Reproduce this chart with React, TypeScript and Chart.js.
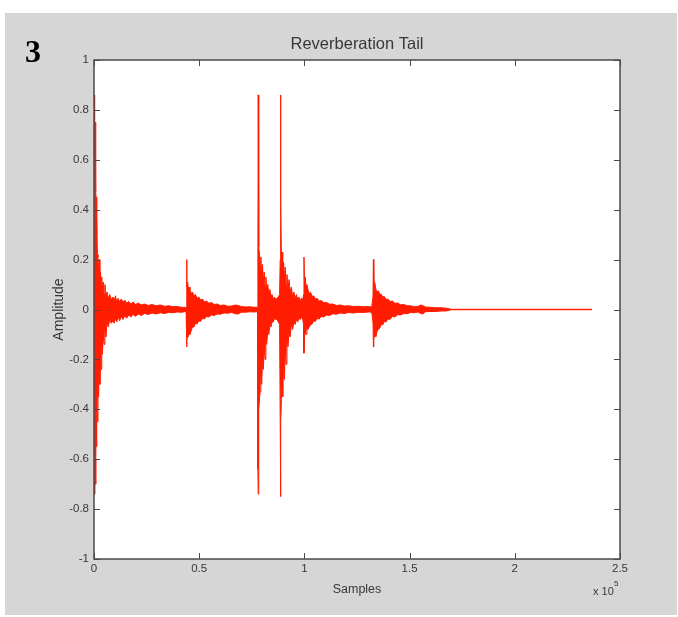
import React, { useEffect, useRef } from 'react';
import { Chart, registerables } from 'chart.js';

Chart.register(...registerables);

// Sample position (x 10^5 samples) with upper / lower amplitude envelope
const samplePos = [
  // first burst
  0.000, 0.002, 0.004, 0.006, 0.008, 0.010, 0.012, 0.014, 0.016, 0.019,
  0.022, 0.025, 0.028, 0.031, 0.034, 0.037, 0.040, 0.044, 0.048, 0.052,
  0.057, 0.062, 0.068, 0.075, 0.082,
  // first tail
  0.090, 0.096, 0.102, 0.108, 0.115, 0.122, 0.130, 0.138, 0.146, 0.155,
  0.165, 0.175, 0.186, 0.198, 0.210, 0.225, 0.240, 0.258, 0.276, 0.295,
  0.315, 0.335, 0.355, 0.375, 0.395, 0.415, 0.438,
  // second burst
  0.440, 0.441, 0.442, 0.445, 0.448, 0.452,
  // second tail
  0.456, 0.462, 0.468, 0.475, 0.482, 0.490, 0.498, 0.506, 0.515, 0.525,
  0.535, 0.546, 0.558, 0.572, 0.586, 0.600, 0.618, 0.636, 0.655, 0.672,
  0.685, 0.700, 0.720, 0.741, 0.760, 0.778,
  // big spike 1
  0.779, 0.7805, 0.782, 0.784, 0.787, 0.790, 0.793, 0.797, 0.801, 0.805,
  0.809, 0.813, 0.817, 0.821, 0.826, 0.831, 0.836, 0.841, 0.846, 0.852,
  0.858, 0.864, 0.870, 0.876, 0.882,
  // big spike 2
  0.885, 0.8865, 0.888, 0.891, 0.894, 0.897, 0.901, 0.905, 0.909, 0.913,
  0.917, 0.922, 0.927, 0.932, 0.938, 0.944, 0.950, 0.956, 0.962, 0.968,
  0.974, 0.980, 0.986, 0.992, 0.996,
  // third burst
  0.998, 1.000, 1.004, 1.008, 1.012,
  // third tail
  1.017, 1.023, 1.030, 1.037, 1.044, 1.052, 1.060, 1.070, 1.080, 1.092,
  1.105, 1.120, 1.135, 1.152, 1.170, 1.190, 1.210, 1.232, 1.255, 1.280,
  1.305, 1.320,
  // fourth burst
  1.326, 1.328, 1.330, 1.334,
  // fourth tail
  1.340, 1.346, 1.352, 1.358, 1.365, 1.372, 1.380, 1.388, 1.397, 1.407,
  1.418, 1.430, 1.443, 1.457, 1.472, 1.488, 1.505, 1.522, 1.540, 1.552,
  1.562, 1.575, 1.595, 1.620, 1.650, 1.675, 1.692, 1.700, 2.367,
];

const upperEnv = [
  // first burst
  0.40, 0.86, 0.55, 0.75, 0.47, 0.45, 0.30, 0.38, 0.22, 0.21,
  0.14, 0.20, 0.12, 0.15, 0.09, 0.13, 0.08, 0.11, 0.06, 0.10,
  0.05, 0.07, 0.045, 0.06, 0.04,
  // first tail
  0.05, 0.035, 0.055, 0.03, 0.045, 0.03, 0.042, 0.028, 0.038, 0.025,
  0.032, 0.022, 0.03, 0.02, 0.026, 0.018, 0.022, 0.016, 0.02, 0.015,
  0.018, 0.013, 0.015, 0.011, 0.012, 0.009, 0.008,
  // second burst
  0.06, 0.20, 0.09, 0.11, 0.085, 0.09,
  // second tail
  0.08, 0.065, 0.07, 0.055, 0.06, 0.045, 0.05, 0.038, 0.042, 0.03,
  0.034, 0.025, 0.028, 0.02, 0.022, 0.016, 0.018, 0.013, 0.014, 0.018,
  0.016, 0.012, 0.010, 0.011, 0.009, 0.009,
  // big spike 1
  0.20, 0.86, 0.43, 0.25, 0.22, 0.16, 0.21, 0.13, 0.18, 0.11,
  0.15, 0.09, 0.13, 0.08, 0.10, 0.06, 0.08, 0.05, 0.06, 0.04,
  0.05, 0.04, 0.045, 0.05, 0.06,
  // big spike 2
  0.20, 0.86, 0.42, 0.20, 0.23, 0.15, 0.19, 0.13, 0.17, 0.10,
  0.14, 0.08, 0.12, 0.07, 0.09, 0.05, 0.07, 0.045, 0.06, 0.04,
  0.05, 0.035, 0.045, 0.04, 0.06,
  // third burst
  0.21, 0.12, 0.13, 0.09, 0.10,
  // third tail
  0.08, 0.065, 0.068, 0.052, 0.055, 0.042, 0.045, 0.034, 0.036, 0.027,
  0.028, 0.021, 0.022, 0.016, 0.018, 0.014, 0.015, 0.012, 0.013, 0.011,
  0.012, 0.010,
  // fourth burst
  0.05, 0.20, 0.10, 0.11,
  // fourth tail
  0.08, 0.07, 0.075, 0.06, 0.062, 0.05, 0.052, 0.04, 0.042, 0.032,
  0.034, 0.025, 0.026, 0.019, 0.02, 0.015, 0.015, 0.011, 0.012, 0.018,
  0.016, 0.010, 0.009, 0.007, 0.007, 0.005, 0.002, 0.001, 0.001,
];

const lowerEnv = [
  // first burst
  -0.50, -0.72, -0.74, -0.60, -0.70, -0.45, -0.55, -0.40, -0.45, -0.33,
  -0.35, -0.22, -0.30, -0.18, -0.24, -0.13, -0.18, -0.10, -0.14, -0.08,
  -0.11, -0.05, -0.07, -0.04, -0.055,
  // first tail
  -0.045, -0.055, -0.035, -0.05, -0.03, -0.045, -0.028, -0.04, -0.025, -0.035,
  -0.022, -0.03, -0.02, -0.027, -0.018, -0.024, -0.016, -0.02, -0.014, -0.018,
  -0.013, -0.016, -0.012, -0.013, -0.01, -0.011, -0.008,
  // second burst
  -0.06, -0.15, -0.12, -0.10, -0.11, -0.09,
  // second tail
  -0.10, -0.085, -0.07, -0.07, -0.055, -0.058, -0.045, -0.048, -0.036, -0.038,
  -0.028, -0.03, -0.022, -0.024, -0.018, -0.019, -0.014, -0.015, -0.012, -0.017,
  -0.018, -0.011, -0.011, -0.009, -0.010, -0.009,
  // big spike 1
  -0.64, -0.74, -0.64, -0.40, -0.35, -0.33, -0.25, -0.30, -0.20, -0.24,
  -0.15, -0.20, -0.12, -0.14, -0.08, -0.10, -0.06, -0.07, -0.05, -0.05,
  -0.035, -0.04, -0.04, -0.05, -0.06,
  // big spike 2
  -0.45, -0.75, -0.45, -0.36, -0.30, -0.35, -0.22, -0.28, -0.16, -0.22,
  -0.12, -0.15, -0.09, -0.11, -0.06, -0.08, -0.05, -0.06, -0.04, -0.05,
  -0.035, -0.04, -0.03, -0.04, -0.06,
  // third burst
  -0.175, -0.11, -0.09, -0.10, -0.07,
  // third tail
  -0.08, -0.07, -0.06, -0.058, -0.045, -0.048, -0.036, -0.038, -0.028, -0.03,
  -0.022, -0.024, -0.017, -0.019, -0.014, -0.016, -0.012, -0.014, -0.011, -0.012,
  -0.010, -0.011,
  // fourth burst
  -0.05, -0.15, -0.12, -0.10,
  // fourth tail
  -0.11, -0.085, -0.08, -0.075, -0.06, -0.062, -0.048, -0.05, -0.038, -0.04,
  -0.028, -0.03, -0.021, -0.022, -0.016, -0.017, -0.012, -0.013, -0.010, -0.016,
  -0.018, -0.009, -0.008, -0.008, -0.006, -0.006, -0.002, -0.001, -0.001,
];

const xTickValues = [0, 0.5, 1, 1.5, 2, 2.5];
const xTickLabels = ['0', '0.5', '1', '1.5', '2', '2.5'];
const yTickValues = [-1, -0.8, -0.6, -0.4, -0.2, 0, 0.2, 0.4, 0.6, 0.8, 1];
const yTickLabels = ['-1', '-0.8', '-0.6', '-0.4', '-0.2', '0', '0.2', '0.4', '0.6', '0.8', '1'];

const chartTitle = 'Reverberation Tail';
const xTitle = 'Samples';
const yTitle = 'Amplitude';
const xMultiplier = 'x 10';
const xExponent = '5';
const panelLabel = '3';

const RED = 'rgb(255, 28, 0)';
const AXIS = '#4a4a4a';
const TEXT = '#383838';

const decorPlugin = {
  id: 'decor',
  beforeDraw(chart: any) {
    const { ctx, chartArea: a } = chart;
    ctx.save();
    ctx.fillStyle = '#ffffff';
    ctx.fillRect(a.left, a.top, a.right - a.left, a.bottom - a.top);
    ctx.restore();
  },
  afterDraw(chart: any) {
    const { ctx, chartArea: a, scales } = chart;
    ctx.save();
    // box
    ctx.strokeStyle = AXIS;
    ctx.lineWidth = 1.5;
    ctx.strokeRect(a.left, a.top, a.right - a.left, a.bottom - a.top);
    // inward ticks on all sides
    ctx.lineWidth = 1;
    const L = 6;
    ctx.beginPath();
    for (const v of xTickValues) {
      const x = Math.round(scales.x.getPixelForValue(v)) + 0.5;
      ctx.moveTo(x, a.bottom);
      ctx.lineTo(x, a.bottom - L);
      ctx.moveTo(x, a.top);
      ctx.lineTo(x, a.top + L);
    }
    for (const v of yTickValues) {
      const y = Math.round(scales.y.getPixelForValue(v)) + 0.5;
      ctx.moveTo(a.left, y);
      ctx.lineTo(a.left + L, y);
      ctx.moveTo(a.right, y);
      ctx.lineTo(a.right - L, y);
    }
    ctx.stroke();

    // texts
    ctx.fillStyle = TEXT;
    ctx.textBaseline = 'alphabetic';
    ctx.textAlign = 'center';
    const cx = (a.left + a.right) / 2;
    ctx.font = '16.5px "Liberation Sans", Arial, sans-serif';
    ctx.fillText(chartTitle, cx, 49);

    ctx.font = '12.5px "Liberation Sans", Arial, sans-serif';
    ctx.fillText(xTitle, cx, 593);

    ctx.save();
    ctx.translate(63, (a.top + a.bottom) / 2);
    ctx.rotate(-Math.PI / 2);
    ctx.font = '14px "Liberation Sans", Arial, sans-serif';
    ctx.fillText(yTitle, 0, 0);
    ctx.restore();

    ctx.textAlign = 'left';
    ctx.font = '11px "Liberation Sans", Arial, sans-serif';
    ctx.fillText(xMultiplier, 593, 595);
    ctx.font = '8px "Liberation Sans", Arial, sans-serif';
    ctx.fillText(xExponent, 614, 586);

    ctx.fillStyle = '#000000';
    ctx.font = 'bold 32px "Liberation Serif", "Times New Roman", serif';
    ctx.fillText(panelLabel, 25, 62);
    ctx.restore();
  },
};

export default function App() {
  const ref = useRef<HTMLCanvasElement | null>(null);

  useEffect(() => {
    if (!ref.current) return;
    const upperData = samplePos.map((x, i) => ({ x, y: upperEnv[i] }));
    const lowerData = samplePos.map((x, i) => ({ x, y: lowerEnv[i] }));
    const common = {
      borderColor: RED,
      backgroundColor: RED,
      borderWidth: 1,
      pointRadius: 0,
      pointHoverRadius: 0,
      tension: 0,
    };
    const chart = new Chart(ref.current, {
      type: 'line',
      data: {
        datasets: [
          { ...common, data: upperData, fill: '+1' },
          { ...common, data: lowerData, fill: false },
        ],
      },
      options: {
        animation: false,
        responsive: false,
        maintainAspectRatio: false,
        devicePixelRatio: 1,
        layout: { padding: { left: 0, right: 58, top: 60, bottom: 28 } },
        plugins: {
          legend: { display: false },
          tooltip: { enabled: false },
          title: { display: false },
        },
        scales: {
          x: {
            type: 'linear',
            min: 0,
            max: 2.5,
            grid: { display: false, drawTicks: false },
            border: { display: false },
            afterBuildTicks: (s: any) => {
              s.ticks = xTickValues.map((v) => ({ value: v }));
            },
            afterFit: (s: any) => {
              s.height = 30;
            },
            ticks: {
              autoSkip: false,
              maxRotation: 0,
              padding: 3,
              color: TEXT,
              font: { family: '"Liberation Sans", Arial, sans-serif', size: 11.5 },
              callback: (v: any) => {
                const i = xTickValues.indexOf(Number(v));
                return i >= 0 ? xTickLabels[i] : '';
              },
            },
          },
          y: {
            type: 'linear',
            min: -1,
            max: 1,
            grid: { display: false, drawTicks: false },
            border: { display: false },
            afterBuildTicks: (s: any) => {
              s.ticks = yTickValues.map((v) => ({ value: v }));
            },
            afterFit: (s: any) => {
              s.width = 94;
            },
            ticks: {
              autoSkip: false,
              padding: 5,
              color: TEXT,
              font: { family: '"Liberation Sans", Arial, sans-serif', size: 11.5 },
              callback: (v: any) => {
                const i = yTickValues.findIndex((t) => Math.abs(t - Number(v)) < 1e-9);
                return i >= 0 ? yTickLabels[i] : '';
              },
            },
          },
        },
      },
      plugins: [decorPlugin],
    } as any);
    return () => chart.destroy();
  }, []);

  return (
    <div style={{ position: 'fixed', left: 0, top: 0, width: 678, height: 617, background: '#ffffff' }}>
      <div style={{ position: 'absolute', left: 5, top: 13, width: 672, height: 602, background: '#d6d6d6' }} />
      <canvas ref={ref} width={678} height={617} style={{ position: 'absolute', left: 0, top: 0, display: 'block' }} />
    </div>
  );
}
